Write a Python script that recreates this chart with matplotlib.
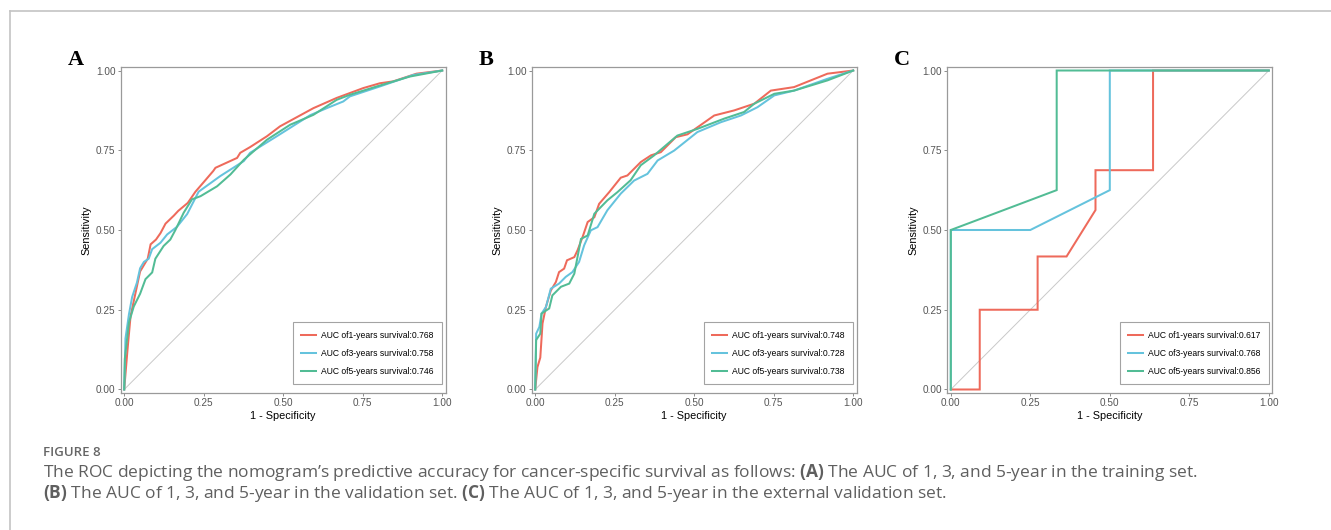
import numpy as np
import matplotlib
matplotlib.use("Agg")
import matplotlib.pyplot as plt
from matplotlib.lines import Line2D

# --------------------------------------------------------------------------
# ROC points  (1 - specificity, sensitivity)
# --------------------------------------------------------------------------

LABELS = ["AUC of1-years survival", "AUC of3-years survival", "AUC of5-years survival"]
COLORS = ["#EE6A5B", "#65C3DD", "#52BC95"]

# A -- training set
A_AUC = [0.768, 0.758, 0.746]
A1_X = [0, 0.01, 0.02, 0.035, 0.05, 0.074, 0.083, 0.10, 0.114, 0.13, 0.156, 0.17, 0.20, 0.224,
        0.25, 0.28, 0.287, 0.355, 0.365, 0.396, 0.449, 0.49, 0.595, 0.668, 0.752, 0.804, 0.846, 0.919, 1]
A1_Y = [0, 0.12, 0.23, 0.30, 0.37, 0.41, 0.455, 0.47, 0.49, 0.52, 0.545, 0.56, 0.585, 0.62,
        0.65, 0.685, 0.695, 0.726, 0.742, 0.76, 0.794, 0.825, 0.882, 0.914, 0.945, 0.96, 0.966, 0.99, 1]
A3_X = [0, 0.004, 0.015, 0.025, 0.04, 0.05, 0.062, 0.077, 0.088, 0.114, 0.135, 0.166, 0.198, 0.234,
        0.302, 0.376, 0.396, 0.48, 0.585, 0.637, 0.689, 0.71, 0.804, 0.909, 1]
A3_Y = [0, 0.16, 0.236, 0.29, 0.335, 0.38, 0.40, 0.41, 0.44, 0.46, 0.486, 0.51, 0.55, 0.62,
        0.669, 0.716, 0.742, 0.794, 0.86, 0.882, 0.903, 0.919, 0.95, 0.986, 1]
A5_X = [0, 0.002, 0.015, 0.03, 0.05, 0.067, 0.088, 0.098, 0.124, 0.145, 0.161, 0.187, 0.213, 0.24,
        0.292, 0.334, 0.376, 0.449, 0.522, 0.595, 0.668, 0.71, 0.794, 0.898, 1]
A5_Y = [0, 0.096, 0.21, 0.26, 0.30, 0.346, 0.367, 0.41, 0.45, 0.47, 0.50, 0.554, 0.596, 0.606,
        0.637, 0.674, 0.72, 0.783, 0.83, 0.861, 0.908, 0.924, 0.95, 0.981, 1]

# B -- validation set
B_AUC = [0.748, 0.728, 0.738]
B1_X = [0, 0.007, 0.016, 0.023, 0.034, 0.049, 0.065, 0.075, 0.091, 0.10, 0.123, 0.133, 0.149, 0.165,
        0.186, 0.201, 0.233, 0.269, 0.29, 0.332, 0.364, 0.395, 0.442, 0.479, 0.563, 0.626, 0.689,
        0.741, 0.814, 0.919, 1]
B1_Y = [0, 0.07, 0.10, 0.207, 0.26, 0.31, 0.337, 0.368, 0.379, 0.405, 0.415, 0.436, 0.478, 0.525,
        0.54, 0.582, 0.619, 0.664, 0.671, 0.713, 0.734, 0.744, 0.791, 0.80, 0.859, 0.875, 0.896,
        0.937, 0.948, 0.99, 1]
B3_X = [0, 0.003, 0.013, 0.02, 0.034, 0.049, 0.075, 0.096, 0.117, 0.138, 0.154, 0.175, 0.196, 0.227,
        0.269, 0.311, 0.353, 0.385, 0.437, 0.51, 0.584, 0.647, 0.699, 0.752, 0.814, 0.919, 1]
B3_Y = [0, 0.175, 0.196, 0.238, 0.259, 0.316, 0.332, 0.353, 0.368, 0.40, 0.452, 0.499, 0.509, 0.562,
        0.614, 0.655, 0.676, 0.718, 0.749, 0.807, 0.838, 0.859, 0.885, 0.922, 0.937, 0.974, 1]
B5_X = [0, 0.003, 0.016, 0.02, 0.044, 0.054, 0.081, 0.107, 0.123, 0.144, 0.165, 0.186, 0.227, 0.259,
        0.30, 0.332, 0.374, 0.447, 0.51, 0.594, 0.657, 0.689, 0.752, 0.814, 0.919, 1]
B5_Y = [0, 0.155, 0.175, 0.238, 0.254, 0.295, 0.322, 0.332, 0.363, 0.472, 0.483, 0.551, 0.593, 0.619,
        0.656, 0.703, 0.734, 0.796, 0.817, 0.849, 0.87, 0.896, 0.927, 0.937, 0.969, 1]

# C -- external validation set
C_AUC = [0.617, 0.768, 0.856]
C1_X = [0, 0.091, 0.091, 0.273, 0.273, 0.364, 0.455, 0.455, 0.636, 0.636, 1]
C1_Y = [0, 0, 0.25, 0.25, 0.417, 0.417, 0.5625, 0.6875, 0.6875, 1, 1]
C3_X = [0, 0, 0.25, 0.5, 0.5, 1]
C3_Y = [0, 0.5, 0.5, 0.625, 1, 1]
C5_X = [0, 0, 0.333, 0.333, 1]
C5_Y = [0, 0.5, 0.625, 1, 1]

PANELS = [
    ("A", [(A1_X, A1_Y), (A3_X, A3_Y), (A5_X, A5_Y)], A_AUC),
    ("B", [(B1_X, B1_Y), (B3_X, B3_Y), (B5_X, B5_Y)], B_AUC),
    ("C", [(C1_X, C1_Y), (C3_X, C3_Y), (C5_X, C5_Y)], C_AUC),
]

TICKS = [0.0, 0.25, 0.5, 0.75, 1.0]

W, H = 1331, 530
plt.rcParams["font.family"] = ["Liberation Sans", "DejaVu Sans"]
plt.rcParams["mathtext.fontset"] = "custom"
plt.rcParams["mathtext.rm"] = "Open Sans"
plt.rcParams["mathtext.bf"] = "Open Sans:bold"

fig = plt.figure(figsize=(W / 100, H / 100), dpi=100)

# axes boxes in pixels: left, top
AX_LEFT = [120.7, 531.7, 947.3]
AX_TOP = 67.0
AX_W, AX_H = 325.0, 326.0

for left, (tag, curves, aucs) in zip(AX_LEFT, PANELS):
    ax = fig.add_axes([left / W, 1 - (AX_TOP + AX_H) / H, AX_W / W, AX_H / H])
    ax.plot([0, 1], [0, 1], color="#c9c9c9", lw=0.7, zorder=1)
    for (xs, ys), col, lab, auc in zip(curves, COLORS, LABELS, aucs):
        ax.plot(xs, ys, color=col, lw=1.45, label=f"{lab}:{auc:.3f}",
                solid_joinstyle="miter", zorder=3)

    ax.set_xlim(-0.011, 1.011)
    ax.set_ylim(-0.011, 1.011)
    ax.set_xticks(TICKS)
    ax.set_yticks(TICKS)
    ax.set_xticklabels([f"{t:.2f}" for t in TICKS])
    ax.set_yticklabels([f"{t:.2f}" for t in TICKS])
    ax.tick_params(length=2.3, width=0.7, color="#8c8c8c", labelsize=7.2,
                   labelcolor="#555555", pad=1.5)
    for s in ax.spines.values():
        s.set_color("#9a9a9a")
        s.set_linewidth(0.9)
    ax.set_xlabel("1 - Specificity", fontsize=7.8, labelpad=2)
    ax.set_ylabel("Sensitivity", fontsize=7.8, labelpad=3)

    leg = ax.legend(loc="lower right", bbox_to_anchor=(0.989, 0.028), borderaxespad=0,
                    fontsize=6.2, frameon=True, fancybox=False, handlelength=1.75,
                    handletextpad=0.6, labelspacing=1.05, borderpad=0.95)
    leg.get_frame().set_edgecolor("#8c8c8c")
    leg.get_frame().set_linewidth(0.8)

    # panel letter
    fig.text((left - 53) / W, 1 - 65 / H, tag, fontsize=16, fontweight="bold",
             family="Liberation Serif", ha="left", va="baseline")

# page frame (top and left edges)
fig.add_artist(Line2D([10 / W, 10 / W], [0, 1 - 11 / H], color="#c4c4c4", lw=1.2))
fig.add_artist(Line2D([10 / W, 1], [1 - 11 / H, 1 - 11 / H], color="#c4c4c4", lw=1.2))

# caption
fig.text(43 / W, 1 - 456 / H, "FIGURE 8", fontsize=9.5, fontweight="semibold",
         family="Open Sans", color="#666666", va="baseline")
fig.text(43 / W, 1 - 477 / H,
         "The ROC depicting the nomogram\u2019s predictive accuracy for cancer-specific survival "
         "as follows: $\\mathbf{(A)}$ The AUC of 1, 3, and 5-year in the training set.",
         fontsize=12.5, family="Open Sans", color="#5f5f5f", va="baseline")
fig.text(43 / W, 1 - 498 / H,
         "$\\mathbf{(B)}$ The AUC of 1, 3, and 5-year in the validation set. "
         "$\\mathbf{(C)}$ The AUC of 1, 3, and 5-year in the external validation set.",
         fontsize=12.5, family="Open Sans", color="#5f5f5f", va="baseline")

fig.savefig("out.png", dpi=100)
